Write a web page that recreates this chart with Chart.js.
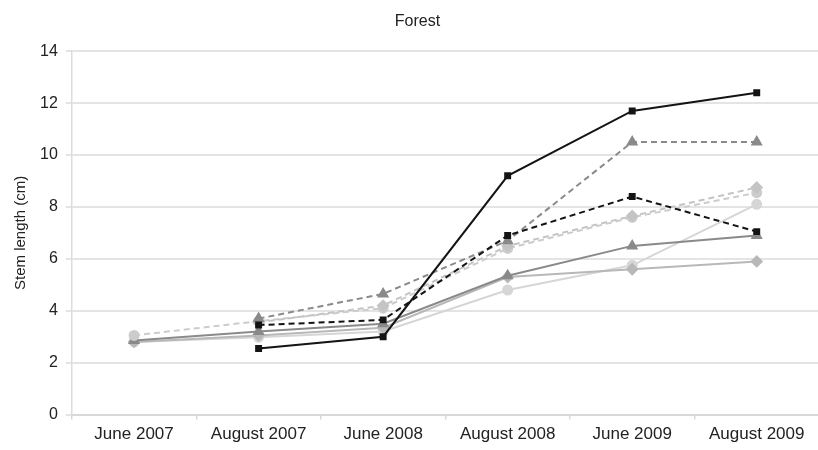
<!DOCTYPE html>
<html>
<head>
<meta charset="utf-8">
<script src="https://cdn.jsdelivr.net/npm/chart.js@4.4.1/dist/chart.umd.min.js"></script>
<style>
  html, body { margin: 0; padding: 0; background: #fff; overflow: hidden; }
  #wrap { width: 826px; height: 450px; }
</style>
</head>
<body>
<div id="wrap"><canvas id="chart"></canvas></div>
<script>
// ── Data ──────────────────────────────────────────────────────
const categories = ['June 2007', 'August 2007', 'June 2008', 'August 2008', 'June 2009', 'August 2009'];
const yTicks = [0, 2, 4, 6, 8, 10, 12, 14];

const blackSolid   = [null, 2.55, 3.0, 9.2, 11.7, 12.4];
const blackDashed  = [null, 3.45, 3.65, 6.9, 8.4, 7.05];
const grayDashed   = [null, 3.7, 4.65, 6.7, 10.5, 10.5];
const lightDashedD = [null, 3.55, 4.2, 6.5, 7.65, 8.75];
const lightDashedC = [3.05, 3.6, 4.1, 6.4, 7.6, 8.55];
const graySolid    = [2.85, 3.2, 3.5, 5.35, 6.5, 6.9];
const lightSolidD  = [2.8, 3.05, 3.35, 5.3, 5.6, 5.9];
const paleSolidC   = [2.8, 2.98, 3.2, 4.8, 5.75, 8.1];

// ── Styles ────────────────────────────────────────────────────
const FONT = "'Liberation Sans', Arial, sans-serif";
const DASH = [6, 4];

function series(label, data, color, point, radius, dashed) {
  return {
    label,
    data,
    borderColor: color,
    backgroundColor: color,
    pointBackgroundColor: color,
    pointBorderColor: color,
    borderWidth: 2,
    borderDash: dashed ? DASH : [],
    pointStyle: point,
    pointRadius: radius,
    pointHoverRadius: radius,
    spanGaps: false,
    tension: 0,
  };
}

new Chart(document.getElementById('chart'), {
  type: 'line',
  data: {
    labels: categories,
    datasets: [
      series('Black solid', blackSolid, '#141414', 'rect', 3.5, false),
      series('Black dashed', blackDashed, '#141414', 'rect', 3.5, true),
      series('Gray dashed', grayDashed, '#8a8a8a', 'triangle', 5, true),
      series('Light dashed diamond', lightDashedD, '#c4c4c4', 'rectRot', 5, true),
      series('Light dashed circle', lightDashedC, '#cccccc', 'circle', 4.5, true),
      series('Gray solid', graySolid, '#8a8a8a', 'triangle', 5, false),
      series('Light solid', lightSolidD, '#b8b8b8', 'rectRot', 5, false),
      series('Pale solid', paleSolidC, '#d6d6d6', 'circle', 4.5, false),
    ],
  },
  options: {
    responsive: true,
    maintainAspectRatio: false,
    animation: false,
    layout: { padding: { left: 12, right: 3, top: 4, bottom: 0 } },
    plugins: {
      legend: { display: false },
      tooltip: { enabled: false },
      title: {
        display: true,
        text: 'Forest',
        color: '#222',
        font: { family: FONT, size: 16, weight: 'normal' },
        padding: { top: 8, bottom: 20 },
      },
    },
    scales: {
      x: {
        offset: true,
        grid: {
          offset: true,
          drawOnChartArea: false,
          drawTicks: true,
          tickLength: 5,
          color: '#d8d8d8',
          lineWidth: 1.5,
        },
        border: { color: '#d8d8d8', width: 2 },
        ticks: {
          color: '#222',
          font: { family: FONT, size: 17 },
          padding: 5,
          maxRotation: 0,
          autoSkip: false,
        },
      },
      y: {
        min: 0,
        max: 14,
        afterBuildTicks: (axis) => { axis.ticks = yTicks.map((v) => ({ value: v })); },
        grid: { color: '#e4e4e4', lineWidth: 2, tickLength: 6 },
        border: { color: '#dcdcdc', width: 1.5 },
        ticks: {
          color: '#222',
          font: { family: FONT, size: 16 },
          padding: 8,
        },
        title: {
          display: true,
          text: 'Stem length (cm)',
          color: '#222',
          font: { family: FONT, size: 15 },
          padding: { top: 0, bottom: 2 },
        },
      },
    },
  },
});
</script>
</body>
</html>
